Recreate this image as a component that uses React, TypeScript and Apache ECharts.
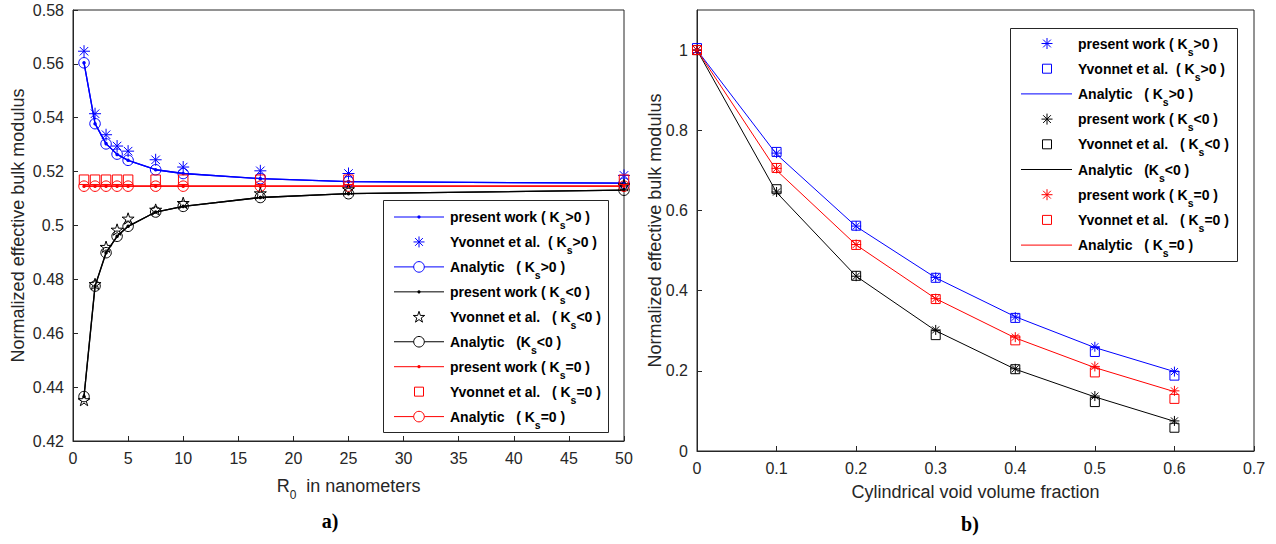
import React, { useEffect, useRef } from 'react';
import * as echarts from 'echarts';

// ---------- data: panel a) ----------
const R0 = [1, 2, 3, 4, 5, 7.5, 10, 17, 25, 50];
const presentPosA = [0.5604, 0.5378, 0.5304, 0.5264, 0.5242, 0.5207, 0.5193, 0.5174, 0.5163, 0.5157];
const yvonnetPosA = [0.5647, 0.5415, 0.5337, 0.5295, 0.5276, 0.5244, 0.5217, 0.5203, 0.5193, 0.5186];
const analyticPosA = [0.5604, 0.5378, 0.5303, 0.5265, 0.5242, 0.5207, 0.5193, 0.5174, 0.5163, 0.5157];
const presentNegA = [0.4365, 0.4775, 0.4899, 0.496, 0.4997, 0.505, 0.5071, 0.5104, 0.5118, 0.5131];
const yvonnetNegA = [0.4352, 0.4783, 0.4921, 0.4985, 0.5026, 0.5059, 0.5084, 0.512, 0.5135, 0.515];
const analyticNegA = [0.4365, 0.4775, 0.4899, 0.496, 0.4997, 0.505, 0.5071, 0.5104, 0.5118, 0.5131];
const presentZeroA = [0.5146, 0.5146, 0.5146, 0.5146, 0.5146, 0.5146, 0.5146, 0.5146, 0.5146, 0.5146];
const yvonnetZeroA = [0.517, 0.517, 0.517, 0.517, 0.517, 0.517, 0.517, 0.517, 0.517, 0.517];
const analyticZeroA = [0.5146, 0.5146, 0.5146, 0.5146, 0.5146, 0.5146, 0.5146, 0.5146, 0.5146, 0.5146];

// ---------- data: panel b) ----------
const fraction = [0, 0.1, 0.2, 0.3, 0.4, 0.5, 0.6];
const presentPosB = [1, 0.743, 0.561, 0.433, 0.334, 0.26, 0.198];
const yvonnetPosB = [1.005, 0.746, 0.562, 0.432, 0.332, 0.247, 0.188];
const analyticPosB = [1, 0.74, 0.56, 0.432, 0.335, 0.258, 0.198];
const presentNegB = [1, 0.646, 0.436, 0.302, 0.205, 0.137, 0.075];
const yvonnetNegB = [1, 0.653, 0.437, 0.289, 0.204, 0.122, 0.058];
const analyticNegB = [1, 0.645, 0.436, 0.3, 0.204, 0.135, 0.074];
const presentZeroB = [1, 0.705, 0.515, 0.38, 0.284, 0.211, 0.15];
const yvonnetZeroB = [1, 0.706, 0.514, 0.379, 0.276, 0.196, 0.13];
const analyticZeroB = [1, 0.7, 0.514, 0.38, 0.282, 0.208, 0.148];

// ---------- legend labels ----------
const legendA = [
  ['present work ( K', 's', '>0 )'],
  ['Yvonnet et al.  ( K', 's', '>0 )'],
  ['Analytic   ( K', 's', '>0 )'],
  ['present work ( K', 's', '<0 )'],
  ['Yvonnet et al.   ( K', 's', '<0 )'],
  ['Analytic   (K', 's', '<0 )'],
  ['present work ( K', 's', '=0 )'],
  ['Yvonnet et al.   ( K', 's', '=0 )'],
  ['Analytic   ( K', 's', '=0 )'],
];
const legendB = [
  ['present work ( K', 's', '>0 )'],
  ['Yvonnet et al.  ( K', 's', '>0 )'],
  ['Analytic   ( K', 's', '>0 )'],
  ['present work ( K', 's', '<0 )'],
  ['Yvonnet et al.   ( K', 's', '<0 )'],
  ['Analytic   (K', 's', '<0 )'],
  ['present work ( K', 's', '=0 )'],
  ['Yvonnet et al.   ( K', 's', '=0 )'],
  ['Analytic   ( K', 's', '=0 )'],
];

const BLUE = '#0000ff';
const RED = '#ff0000';
const BLACK = '#000000';
const AX = '#262626';
const FONT = "'Liberation Sans', Arial, Helvetica, sans-serif";
const SERIF = "'Liberation Serif', 'Times New Roman', serif";

const ASTERISK = 'path://M0,-6L0,6M-6,0L6,0M-4.24,-4.24L4.24,4.24M-4.24,4.24L4.24,-4.24';
const STAR_PTS: number[][] = (() => {
  const pts: number[][] = [];
  for (let i = 0; i < 10; i++) {
    const a = ((-90 + i * 36) * Math.PI) / 180;
    const r = i % 2 === 0 ? 1 : 0.382;
    pts.push([r * Math.cos(a), r * Math.sin(a)]);
  }
  return pts;
})();
const PENTAGRAM =
  'path://' +
  STAR_PTS.map((p, i) => (i === 0 ? 'M' : 'L') + (p[0] * 10).toFixed(3) + ',' + (p[1] * 10).toFixed(3)).join('') +
  'Z';

const pairs = (xs: number[], ys: number[]) => xs.map((x, i) => [x, ys[i]]);

function lineSeries(name: string, idx: number, xs: number[], ys: number[], color: string, symbol: string, size: number, filled: boolean, width: number) {
  return {
    name,
    type: 'line',
    xAxisIndex: idx,
    yAxisIndex: idx,
    data: pairs(xs, ys),
    symbol,
    symbolSize: size,
    showSymbol: true,
    showAllSymbol: true,
    lineStyle: { color, width },
    itemStyle: filled
      ? { color, borderColor: color, borderWidth: 0 }
      : { color: 'transparent', borderColor: color, borderWidth: 1 },
    silent: true,
    z: 3,
  };
}

function scatterSeries(name: string, idx: number, xs: number[], ys: number[], color: string, symbol: string, size: number) {
  return {
    name,
    type: 'scatter',
    xAxisIndex: idx,
    yAxisIndex: idx,
    data: pairs(xs, ys),
    symbol,
    symbolSize: size,
    symbolKeepAspect: true,
    itemStyle: { color: 'transparent', borderColor: color, borderWidth: 1, opacity: 1 },
    silent: true,
    z: 4,
  };
}

function onlyLine(name: string, idx: number, xs: number[], ys: number[], color: string, width: number) {
  return {
    name,
    type: 'line',
    xAxisIndex: idx,
    yAxisIndex: idx,
    data: pairs(xs, ys),
    symbol: 'none',
    lineStyle: { color, width },
    itemStyle: { color },
    silent: true,
    z: 3,
  };
}

const richText = {
  b: { fontSize: 14, fontWeight: 'bold', fontFamily: FONT, lineHeight: 27, fill: '#000' },
  s: { fontSize: 10.5, fontWeight: 'bold', fontFamily: FONT, verticalAlign: 'bottom', fill: '#000' },
};

function marker(kind: string, color: string, cx: number, cy: number, x1: number, x2: number): any[] {
  const out: any[] = [];
  const stroke = { stroke: color, lineWidth: 1, fill: 'none' };
  if (kind === 'dotline' || kind === 'circleline' || kind === 'line') {
    out.push({ type: 'line', shape: { x1, y1: cy, x2, y2: cy }, style: { stroke: color, lineWidth: 1 } });
  }
  if (kind === 'dotline') {
    out.push({ type: 'circle', shape: { cx, cy, r: 1.6 }, style: { fill: color } });
  }
  if (kind === 'circleline') {
    out.push({ type: 'circle', shape: { cx, cy, r: 5.3 }, style: { ...stroke, fill: '#fff' } });
  }
  if (kind === 'asterisk') {
    const r = 5.5;
    const d = r * 0.707;
    out.push({ type: 'line', shape: { x1: cx, y1: cy - r, x2: cx, y2: cy + r }, style: stroke });
    out.push({ type: 'line', shape: { x1: cx - r, y1: cy, x2: cx + r, y2: cy }, style: stroke });
    out.push({ type: 'line', shape: { x1: cx - d, y1: cy - d, x2: cx + d, y2: cy + d }, style: stroke });
    out.push({ type: 'line', shape: { x1: cx - d, y1: cy + d, x2: cx + d, y2: cy - d }, style: stroke });
  }
  if (kind === 'pentagram') {
    out.push({ type: 'polygon', shape: { points: STAR_PTS.map((p) => [cx + p[0] * 6, cy + p[1] * 6 + 0.5]) }, style: stroke });
  }
  if (kind === 'square') {
    out.push({ type: 'rect', shape: { x: cx - 4.5, y: cy - 4.5, width: 9, height: 9 }, style: stroke });
  }
  return out;
}

function legendBox(
  box: { x: number; y: number; w: number; h: number },
  rowY0: number,
  gap: number,
  mx: number,
  lx1: number,
  lx2: number,
  tx: number,
  kinds: string[],
  colors: string[],
  labels: string[][]
) {
  const children: any[] = [
    { type: 'rect', shape: { x: box.x, y: box.y, width: box.w, height: box.h }, style: { fill: '#fff', stroke: AX, lineWidth: 1 } },
  ];
  labels.forEach((lab, i) => {
    const cy = rowY0 + i * gap;
    children.push(...marker(kinds[i], colors[i], mx, cy, lx1, lx2));
    children.push({
      type: 'text',
      x: tx,
      y: cy,
      style: {
        text: '{b|' + lab[0] + '}{s|' + lab[1] + '}{b|' + lab[2] + '}',
        rich: richText,
        align: 'left',
        verticalAlign: 'middle',
      },
    });
  });
  return { type: 'group', z: 100, children };
}

const nameA = legendA.map((l) => l.join(''));
const nameB = legendB.map((l) => l.join(''));

function xAxisCfg(idx: number, min: number, max: number, interval: number, name: string, nameGap: number) {
  return {
    gridIndex: idx,
    type: 'value',
    min,
    max,
    interval,
    axisLine: { onZero: false, lineStyle: { color: AX, width: 1 } },
    axisTick: { inside: true, length: 5, lineStyle: { color: AX } },
    axisLabel: { color: AX, fontSize: 16, fontFamily: FONT, margin: 9 },
    splitLine: { show: false },
    name,
    nameLocation: 'middle',
    nameGap,
    nameMoveOverlap: false,
    nameTextStyle: {
      color: AX,
      fontSize: 18,
      fontFamily: FONT,
      rich: {
        n: { color: AX, fontSize: 18, fontFamily: FONT, lineHeight: 30 },
        s: { color: AX, fontSize: 12, fontFamily: FONT, verticalAlign: 'bottom' },
      },
    },
  };
}

function yAxisCfg(idx: number, min: number, max: number, interval: number, nameGap: number) {
  return {
    gridIndex: idx,
    type: 'value',
    min,
    max,
    interval,
    axisLine: { onZero: false, lineStyle: { color: AX, width: 1 } },
    axisTick: { inside: true, length: 5, lineStyle: { color: AX } },
    axisLabel: { color: AX, fontSize: 16, fontFamily: FONT, margin: 9, showMaxLabel: idx === 0 },
    splitLine: { show: false },
    name: 'Normalized effective bulk modulus',
    nameLocation: 'middle',
    nameGap,
    nameMoveOverlap: false,
    nameTextStyle: { color: AX, fontSize: 18, fontFamily: FONT },
  };
}

export default function App() {
  const ref = useRef<HTMLDivElement>(null);
  useEffect(() => {
    if (!ref.current) return;
    const chart = echarts.init(ref.current, undefined, { renderer: 'svg' });
    const option: any = {
      animation: false,
      backgroundColor: '#ffffff',
      grid: [
        { left: 73, top: 10, width: 551, height: 431, show: true, borderColor: AX, borderWidth: 1, backgroundColor: 'transparent' },
        { left: 697, top: 10, width: 557, height: 441, show: true, borderColor: AX, borderWidth: 1, backgroundColor: 'transparent' },
      ],
      xAxis: [
        xAxisCfg(0, 0, 50, 5, '{n|R}{s|0}{n|  in nanometers}', 30),
        xAxisCfg(1, 0, 0.7, 0.1, 'Cylindrical void volume fraction', 32),
      ],
      yAxis: [yAxisCfg(0, 0.42, 0.58, 0.02, 46), yAxisCfg(1, 0, 1.1, 0.2, 33)],
      series: [
        lineSeries(nameA[0], 0, R0, presentPosA, BLUE, 'circle', 3.5, true, 1.3),
        scatterSeries(nameA[1], 0, R0, yvonnetPosA, BLUE, ASTERISK, 12),
        lineSeries(nameA[2], 0, R0, analyticPosA, BLUE, 'circle', 10.5, false, 1.3),
        lineSeries(nameA[3], 0, R0, presentNegA, BLACK, 'circle', 3.5, true, 1.3),
        scatterSeries(nameA[4], 0, R0, yvonnetNegA, BLACK, PENTAGRAM, 12),
        lineSeries(nameA[5], 0, R0, analyticNegA, BLACK, 'circle', 10.5, false, 1.3),
        lineSeries(nameA[6], 0, R0, presentZeroA, RED, 'circle', 3.5, true, 1.3),
        scatterSeries(nameA[7], 0, R0, yvonnetZeroA, RED, 'rect', 9.5),
        lineSeries(nameA[8], 0, R0, analyticZeroA, RED, 'circle', 10.5, false, 1.3),

        scatterSeries(nameB[0] + ' ', 1, fraction, presentPosB, BLUE, ASTERISK, 10),
        scatterSeries(nameB[1] + ' ', 1, fraction, yvonnetPosB, BLUE, 'rect', 9),
        onlyLine(nameB[2] + ' ', 1, fraction, analyticPosB, BLUE, 1),
        scatterSeries(nameB[3] + ' ', 1, fraction, presentNegB, BLACK, ASTERISK, 10),
        scatterSeries(nameB[4] + ' ', 1, fraction, yvonnetNegB, BLACK, 'rect', 9),
        onlyLine(nameB[5] + ' ', 1, fraction, analyticNegB, BLACK, 1),
        scatterSeries(nameB[6] + ' ', 1, fraction, presentZeroB, RED, ASTERISK, 10),
        scatterSeries(nameB[7] + ' ', 1, fraction, yvonnetZeroB, RED, 'rect', 9),
        onlyLine(nameB[8] + ' ', 1, fraction, analyticZeroB, RED, 1),
      ],
      graphic: [
        legendBox(
          { x: 383.5, y: 200.5, w: 225, h: 232 },
          217,
          24.95,
          419,
          394,
          444,
          450,
          ['dotline', 'asterisk', 'circleline', 'dotline', 'pentagram', 'circleline', 'dotline', 'square', 'circleline'],
          [BLUE, BLUE, BLUE, BLACK, BLACK, BLACK, RED, RED, RED],
          legendA
        ),
        legendBox(
          { x: 1010.5, y: 28.5, w: 227, h: 233 },
          43.5,
          25.2,
          1047,
          1021,
          1072,
          1078,
          ['asterisk', 'square', 'line', 'asterisk', 'square', 'line', 'asterisk', 'square', 'line'],
          [BLUE, BLUE, BLUE, BLACK, BLACK, BLACK, RED, RED, RED],
          legendB
        ),
        {
          type: 'text',
          x: 330,
          y: 521,
          z: 100,
          style: { text: 'a)', font: 'bold 20px ' + SERIF, fill: '#000', align: 'center', verticalAlign: 'middle' },
        },
        {
          type: 'text',
          x: 970,
          y: 524,
          z: 100,
          style: { text: 'b)', font: 'bold 20px ' + SERIF, fill: '#000', align: 'center', verticalAlign: 'middle' },
        },
      ],
    };
    chart.setOption(option);
    return () => chart.dispose();
  }, []);
  return <div ref={ref} style={{ position: 'fixed', left: 0, top: 0, width: 1276, height: 544, background: '#fff' }} />;
}
